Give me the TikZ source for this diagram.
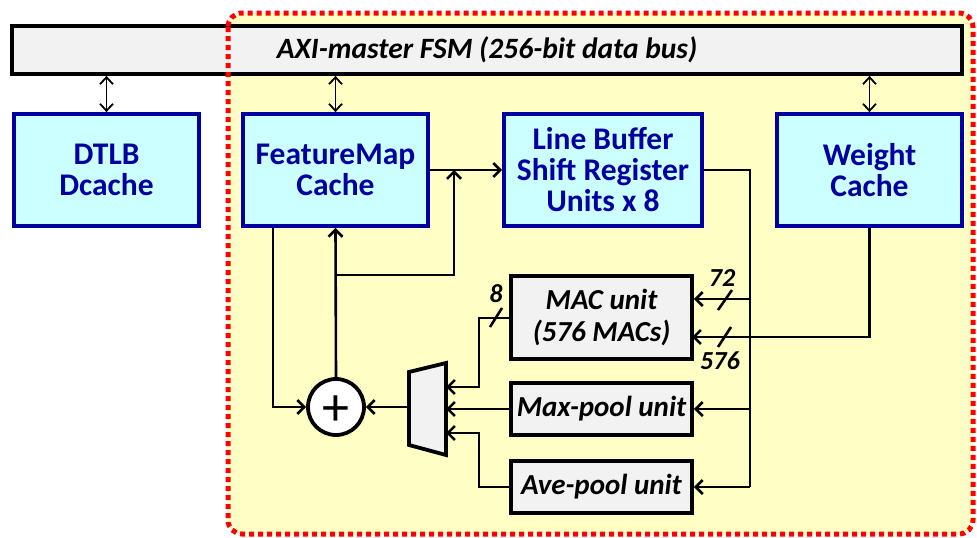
\documentclass[tikz,border=0pt]{standalone}
\usepackage{fontspec}
\setmainfont{Carlito}
\usetikzlibrary{arrows.meta}
\definecolor{zone}{HTML}{FFFFC5}
\definecolor{cachefill}{HTML}{CCFFFF}
\definecolor{cacheblue}{HTML}{0000A0}
\definecolor{unitgray}{HTML}{F2F2F2}
\definecolor{dotred}{HTML}{FF0000}
\begin{document}
\begin{tikzpicture}[x=1pt,y=-1pt,
  cachebox/.style={draw=cacheblue, line width=3.8pt, fill=cachefill, text=cacheblue,
    font=\fontsize{31.5}{31}\selectfont\bfseries, align=center, inner sep=0pt},
  unitbox/.style={draw=black, line width=3.8pt, fill=unitgray, text=black,
    font=\fontsize{29}{32}\selectfont\bfseries\itshape, align=center, inner sep=0pt},
  wire/.style={line width=2.6pt},
  arr/.style={wire, -{Straight Barb[length=7pt,width=14pt,line width=2.6pt]}},
  dbl/.style={line width=1.8pt, {Straight Barb[length=7pt,width=13pt,line width=1.8pt]}-{Straight Barb[length=7pt,width=13pt,line width=1.8pt]}},
  buswidth/.style={font=\fontsize{26}{28}\selectfont\bfseries\itshape, inner sep=0pt}
]
\useasboundingbox (0,0) rectangle (977,538);

% accelerator region
\fill[zone, rounded corners=14pt] (228,13) rectangle (973,534);

% AXI bus master
\node[draw=black, line width=3.8pt, fill=unitgray, minimum width=950pt, minimum height=48pt,
  inner sep=0pt, font=\fontsize{29.5}{30}\selectfont\bfseries\itshape] (bar) at (487,50)
  {AXI-master FSM (256-bit data bus)};

% caches and line buffer
\node[cachebox, minimum width=185pt, minimum height=112pt] (dtlb) at (106.5,170) {DTLB\\Dcache};
\node[cachebox, minimum width=185pt, minimum height=112pt] (fm) at (335.5,170) {FeatureMap\\Cache};
\node[cachebox, minimum width=198pt, minimum height=112pt] (lb) at (603,170) {Line Buffer\\Shift Register\\Units x 8};
\node[cachebox, minimum width=185pt, minimum height=112pt] (wc) at (869.5,170) {Weight\\Cache};

% compute units
\node[unitbox, minimum width=181pt, minimum height=83pt] (mac) at (601.5,317.5) {MAC unit\\(576 MACs)};
\node[unitbox, minimum width=181pt, minimum height=52pt] (maxp) at (601.5,409) {Max-pool unit};
\node[unitbox, minimum width=181pt, minimum height=52pt] (avep) at (601.5,487) {Ave-pool unit};

% adder
\node[draw=black, line width=3.8pt, fill=white, circle, minimum size=56pt, inner sep=0pt] (add) at (336,407) {};
\node[font=\fontsize{54}{54}\selectfont, inner sep=0pt] (plus) at (336,411) {+};

% multiplexer
\draw[line width=3.8pt, fill=unitgray, line join=miter] (409,372) -- (446,363) -- (446,455) -- (409,445) -- cycle;
\coordinate (muxout) at (409,407);
\coordinate (muxin1) at (446,387);
\coordinate (muxin2) at (446,409);
\coordinate (muxin3) at (446,433);

% bus connections
\draw[dbl] (bar.south -| dtlb.north) -- (dtlb.north);
\draw[dbl] (bar.south -| fm.north) -- (fm.north);
\draw[dbl] (bar.south -| wc.north) -- (wc.north);

% feature map path
\coordinate (j1) at (454,170);
\coordinate (j2) at (454,275);
\draw[arr] (fm.east) -- (lb.west);
\draw[arr] (add.north) -- (fm.south);
\draw[arr] (add.north |- j2) -- (j2) -- (j1);
\draw[arr] ([xshift=-62.5pt]fm.south) |- (add.west);
\draw[arr] (muxout) -- (add.east);

% unit outputs into the multiplexer
\coordinate (c8) at (479,318);
\draw[arr] (mac.west |- c8) -- (c8) |- (muxin1);
\draw[arr] (maxp.west) -- (muxin2);
\draw[arr] (avep.west) -- (avep.west -| c8) |- (muxin3);
\draw[wire] (490,327) -- (502,308);
\node[buswidth] (l8) at (496,294) {8};

% line buffer distribution bus
\coordinate (bus) at (750,170);
\coordinate (b72) at (750,299);
\coordinate (bend) at (750,487);
\draw[wire] (lb.east) -- (bus) -- (bend);
\draw[arr] (b72) -- (mac.east |- b72);
\draw[arr] (maxp.east -| bus) -- (maxp.east);
\draw[arr] (bend) -- (avep.east);
\draw[wire] (718,310) -- (732,290);
\node[buswidth] (l72) at (722,278) {72};

% weights
\coordinate (w576) at (692,337);
\draw[arr] (wc.south) |- (w576);
\draw[wire] (718,347) -- (731,327);
\node[buswidth] (l576) at (720,361) {576};

% region outline
\draw[dotred, line width=5pt, dash pattern=on 5pt off 4pt, rounded corners=14pt] (228,13) rectangle (973,534);
\end{tikzpicture}
\end{document}
